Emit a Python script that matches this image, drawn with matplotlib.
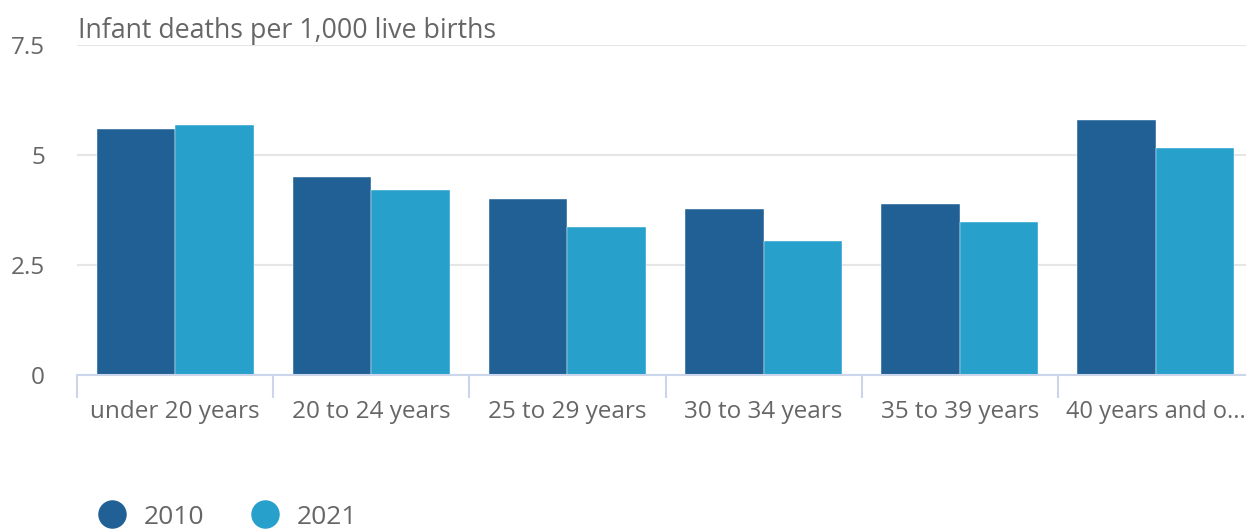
import matplotlib
matplotlib.use("Agg")
import matplotlib.pyplot as plt
from matplotlib.lines import Line2D
import numpy as np

plt.rcParams['font.family'] = ['Open Sans', 'DejaVu Sans']

# Datos
categories = ["under 20 years", "20 to 24 years", "25 to 29 years",
              "30 to 34 years", "35 to 39 years", "40 years and o..."]
rates_2010 = [5.58, 4.5, 4.0, 3.78, 3.89, 5.79]
rates_2021 = [5.69, 4.2, 3.37, 3.05, 3.48, 5.17]
y_ticks = [0, 2.5, 5, 7.5]
y_tick_labels = ["0", "2.5", "5", "7.5"]

color_2010 = "#206095"
color_2021 = "#27a0cc"
text_color = "#666666"
axis_color = "#ccd6eb"

W, H = 1246, 529
fig = plt.figure(figsize=(W / 100, H / 100), dpi=100)
ax = fig.add_axes([77 / W, 1 - 375 / H, 1177 / W, (375 - 45) / H])

x = np.arange(len(categories))
ax.bar(x - 0.2, rates_2010, width=0.4, color=color_2010, edgecolor="white", linewidth=0.3, zorder=3)
ax.bar(x + 0.2, rates_2021, width=0.4, color=color_2021, edgecolor="white", linewidth=0.3, zorder=3)

ax.set_xlim(-0.5, len(categories) - 0.5)
ax.set_ylim(0, 7.5)
ax.set_yticks(y_ticks)
ax.set_yticklabels(y_tick_labels)
ax.yaxis.grid(True, color="#e6e6e6", linewidth=1.5, zorder=0)
ax.tick_params(axis="y", length=0, pad=23, labelsize=17.5, labelcolor=text_color)

# Ticks en los limites de categoria, etiquetas en el centro
ax.set_xticks(x)
ax.set_xticklabels(categories)
ax.set_xticks(np.arange(len(categories)) - 0.5, minor=True)
ax.tick_params(axis="x", which="major", length=0, pad=18, labelsize=17.5, labelcolor=text_color)
ax.tick_params(axis="x", which="minor", length=16.5, width=1.5, color=axis_color)
# la ultima etiqueta toca el borde derecho
ax.get_xticklabels()[-1].set_fontsize(17)

for side in ["top", "right", "left"]:
    ax.spines[side].set_visible(False)
ax.spines["bottom"].set_color(axis_color)
ax.spines["bottom"].set_linewidth(1.5)
ax.spines["bottom"].set_zorder(4)

fig.text(78 / W, 1 - 31 / H, "Infant deaths per 1,000 live births",
         fontsize=19.3, color=text_color, ha="left", va="center")

handles = [Line2D([], [], linestyle="none", marker="o", markersize=19.5, color=color_2010),
           Line2D([], [], linestyle="none", marker="o", markersize=19.5, color=color_2021)]
fig.legend(handles, ["2010", "2021"], loc="center left",
           bbox_to_anchor=(86 / W, 1 - 517 / H), ncol=2, frameon=False,
           fontsize=19, labelcolor=text_color, handletextpad=0.2,
           columnspacing=1.3, borderaxespad=0, borderpad=0)

plt.savefig("out.png", dpi=100)
